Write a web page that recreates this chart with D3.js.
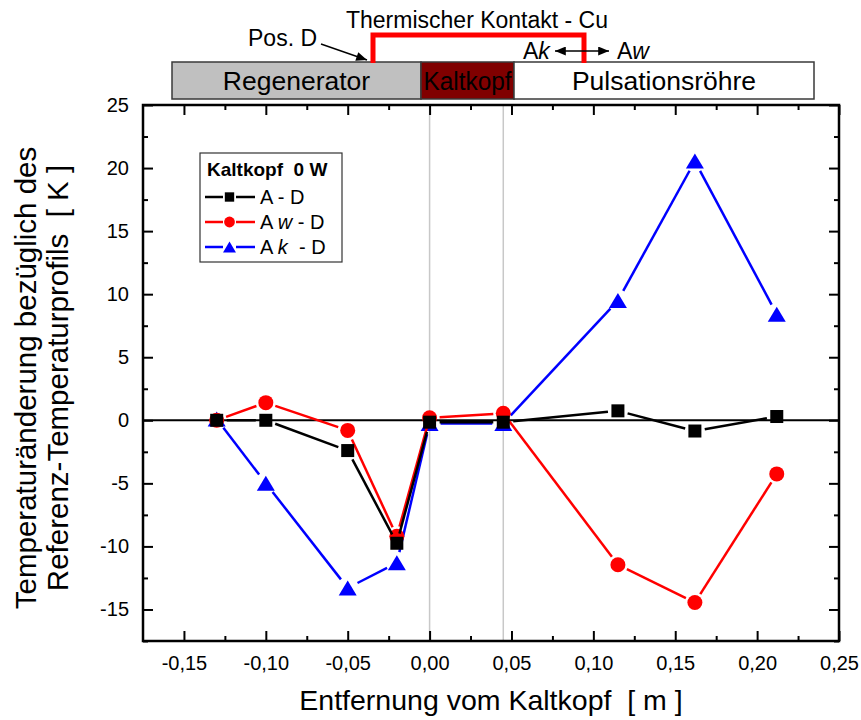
<!DOCTYPE html>
<html>
<head>
<meta charset="utf-8">
<script src="https://cdn.jsdelivr.net/npm/d3@7"></script>
<style>
  body { margin: 0; background: #fff; }
  svg text { font-family: "Liberation Sans", Arial, Helvetica, sans-serif; white-space: pre; }
</style>
</head>
<body>
<svg id="chart" width="861" height="720"></svg>
<script>
// Measurement positions along the cold head axis [m]
const positions = [-0.13, -0.10, -0.05, -0.02, 0.00, 0.045, 0.115, 0.162, 0.212];
// Temperature change relative to the reference profile [K]
const seriesAD  = [0.0, 0.0, -2.4, -9.75, -0.15, -0.15, 0.75, -0.85, 0.3];
const seriesAwD = [0.0, 1.4, -0.8, -9.2, 0.2, 0.55, -11.45, -14.45, -4.25];
const seriesAkD = [0.1, -5.0, -13.3, -11.3, -0.25, -0.25, 9.5, 20.55, 8.4];

const xMajorTicks = [-0.15, -0.10, -0.05, 0.00, 0.05, 0.10, 0.15, 0.20, 0.25];
const xMinorTicks = [-0.125, -0.075, -0.025, 0.025, 0.075, 0.125, 0.175, 0.225];
const yMajorTicks = [-15, -10, -5, 0, 5, 10, 15, 20, 25];
const yMinorTicks = [-17.5, -12.5, -7.5, -2.5, 2.5, 7.5, 12.5, 17.5, 22.5];
const guideLines = [0.0, 0.045];   // Regenerator/cold head and cold head/pulse tube boundaries

const svg = d3.select("#chart");
const plot = { left: 143, right: 839, top: 105, bottom: 641 };

const x = d3.scaleLinear().domain([-0.175, 0.25]).range([plot.left, plot.right]);
const y = d3.scaleLinear().domain([-17.5, 25]).range([plot.bottom, plot.top]);

const fmtX = d => d3.format(".2f")(d).replace("−", "-").replace(".", ",");
const fmtY = d => d3.format("d")(d).replace("−", "-");

// arrowhead marker for the header annotations
const defs = svg.append("defs");
defs.append("marker")
  .attr("id", "arrow")
  .attr("viewBox", "0 0 12 10")
  .attr("refX", 12).attr("refY", 5)
  .attr("markerWidth", 12).attr("markerHeight", 9)
  .attr("markerUnits", "userSpaceOnUse")
  .attr("orient", "auto-start-reverse")
  .append("path").attr("d", "M0,0 L12,5 L0,10 Z").attr("fill", "#000");

// ---- header: apparatus sketch ----
const header = svg.append("g");
const boxes = [
  { name: "Regenerator", x0: 172, x1: 421, fill: "#c0c0c0", fit: null },
  { name: "Kaltkopf", x0: 421, x1: 514, fill: "#800000", fit: 88 },
  { name: "Pulsationsröhre", x0: 514, x1: 814, fill: "#ffffff", fit: null }
];
header.selectAll("rect.box").data(boxes).join("rect")
  .attr("class", "box")
  .attr("x", d => d.x0).attr("y", 62)
  .attr("width", d => d.x1 - d.x0).attr("height", 37)
  .attr("fill", d => d.fill)
  .attr("stroke", "#3a3a3a").attr("stroke-width", 1.5);
header.selectAll("text.box").data(boxes).join("text")
  .attr("class", "box")
  .attr("x", d => (d.x0 + d.x1) / 2).attr("y", 90)
  .attr("text-anchor", "middle")
  .attr("font-size", 26.5)
  .attr("fill", "#000")
  .each(function (d) {
    if (d.fit) d3.select(this).attr("textLength", d.fit).attr("lengthAdjust", "spacingAndGlyphs");
  })
  .text(d => d.name);

// copper thermal contact bracket
header.append("path")
  .attr("d", "M373,63 V35 H584 V63")
  .attr("fill", "none").attr("stroke", "#ff0000").attr("stroke-width", 5);

header.append("text").attr("x", 477).attr("y", 28).attr("text-anchor", "middle")
  .attr("font-size", 23).text("Thermischer Kontakt - Cu");
header.append("text").attr("x", 248).attr("y", 46).attr("font-size", 23).text("Pos. D");
header.append("line").attr("x1", 321).attr("y1", 44).attr("x2", 367).attr("y2", 60)
  .attr("stroke", "#000").attr("stroke-width", 1.5).attr("marker-end", "url(#arrow)");

const ak = header.append("text").attr("x", 523).attr("y", 59).attr("font-size", 23);
ak.append("tspan").text("A");
ak.append("tspan").attr("font-style", "italic").text("k");
header.append("line").attr("x1", 555).attr("y1", 51).attr("x2", 609).attr("y2", 51)
  .attr("stroke", "#000").attr("stroke-width", 1.5)
  .attr("marker-start", "url(#arrow)").attr("marker-end", "url(#arrow)");
const aw = header.append("text").attr("x", 617).attr("y", 59).attr("font-size", 23);
aw.append("tspan").text("A");
aw.append("tspan").attr("font-style", "italic").text("w");

// ---- plot area ----
svg.append("g").selectAll("line").data(guideLines).join("line")
  .attr("x1", d => x(d)).attr("x2", d => x(d))
  .attr("y1", plot.top).attr("y2", plot.bottom)
  .attr("stroke", "#c8c8c8").attr("stroke-width", 1.5);

svg.append("line")
  .attr("x1", plot.left).attr("x2", plot.right)
  .attr("y1", y(0)).attr("y2", y(0))
  .attr("stroke", "#000").attr("stroke-width", 2);

function styleAxis(g, size) {
  g.select(".domain").remove();
  g.selectAll(".tick line").attr("stroke", "#000").attr("stroke-width", 2);
  g.selectAll("text").attr("font-size", size).attr("fill", "#000")
    .attr("font-family", "'Liberation Sans', Arial, sans-serif");
}

// bottom
svg.append("g").attr("transform", `translate(0,${plot.bottom})`)
  .call(d3.axisBottom(x).tickValues(xMajorTicks).tickSize(-10).tickSizeOuter(0).tickPadding(15).tickFormat(fmtX))
  .call(g => styleAxis(g, 20));
svg.append("g").attr("transform", `translate(0,${plot.bottom})`)
  .call(d3.axisBottom(x).tickValues(xMinorTicks).tickSize(-5).tickSizeOuter(0).tickFormat(""))
  .call(g => styleAxis(g, 20));
// top
svg.append("g").attr("transform", `translate(0,${plot.top})`)
  .call(d3.axisTop(x).tickValues(xMajorTicks).tickSize(-10).tickSizeOuter(0).tickFormat(""))
  .call(g => styleAxis(g, 20));
svg.append("g").attr("transform", `translate(0,${plot.top})`)
  .call(d3.axisTop(x).tickValues(xMinorTicks).tickSize(-5).tickSizeOuter(0).tickFormat(""))
  .call(g => styleAxis(g, 20));
// left
svg.append("g").attr("transform", `translate(${plot.left},0)`)
  .call(d3.axisLeft(y).tickValues(yMajorTicks).tickSize(-10).tickSizeOuter(0).tickPadding(14).tickFormat(fmtY))
  .call(g => styleAxis(g, 20));
svg.append("g").attr("transform", `translate(${plot.left},0)`)
  .call(d3.axisLeft(y).tickValues(yMinorTicks).tickSize(-5).tickSizeOuter(0).tickFormat(""))
  .call(g => styleAxis(g, 20));
// right
svg.append("g").attr("transform", `translate(${plot.right},0)`)
  .call(d3.axisRight(y).tickValues(yMajorTicks).tickSize(-10).tickSizeOuter(0).tickFormat(""))
  .call(g => styleAxis(g, 20));
svg.append("g").attr("transform", `translate(${plot.right},0)`)
  .call(d3.axisRight(y).tickValues(yMinorTicks).tickSize(-5).tickSizeOuter(0).tickFormat(""))
  .call(g => styleAxis(g, 20));

svg.append("rect")
  .attr("x", plot.left).attr("y", plot.top)
  .attr("width", plot.right - plot.left).attr("height", plot.bottom - plot.top)
  .attr("fill", "none").attr("stroke", "#000").attr("stroke-width", 2.5);

// ---- series ----
function drawMarker(g, shape, cx, cy, s, color) {
  if (shape === "square") {
    g.append("rect").attr("x", cx - 6.5 * s).attr("y", cy - 6.5 * s)
      .attr("width", 13 * s).attr("height", 13 * s).attr("fill", color);
  } else if (shape === "circle") {
    g.append("circle").attr("cx", cx).attr("cy", cy).attr("r", 7.5 * s).attr("fill", color);
  } else {
    g.append("path")
      .attr("d", `M${cx},${cy - 7.5 * s} L${cx + 9 * s},${cy + 7.5 * s} L${cx - 9 * s},${cy + 7.5 * s} Z`)
      .attr("fill", color);
  }
}

const series = [
  { name: "Ak", values: seriesAkD, color: "#0000ff", shape: "triangle", gap: 11 },
  { name: "Aw", values: seriesAwD, color: "#ff0000", shape: "circle", gap: 10 },
  { name: "A",  values: seriesAD,  color: "#000000", shape: "square", gap: 10 }
];

series.forEach(s => {
  const g = svg.append("g");
  const pts = positions.map((p, i) => [x(p), y(s.values[i])]);
  d3.pairs(pts).forEach(([a, b]) => {
    const dx = b[0] - a[0], dy = b[1] - a[1];
    const len = Math.hypot(dx, dy);
    if (len <= 2 * s.gap) return;
    const ux = dx / len, uy = dy / len;
    g.append("line")
      .attr("x1", a[0] + ux * s.gap).attr("y1", a[1] + uy * s.gap)
      .attr("x2", b[0] - ux * s.gap).attr("y2", b[1] - uy * s.gap)
      .attr("stroke", s.color).attr("stroke-width", 2.5);
  });
  pts.forEach(p => drawMarker(g, s.shape, p[0], p[1], 1, s.color));
});

// ---- legend ----
const legend = svg.append("g");
legend.append("rect").attr("x", 200).attr("y", 153).attr("width", 142).attr("height", 109)
  .attr("fill", "#fff").attr("stroke", "#333").attr("stroke-width", 1.2);
legend.append("text").attr("x", 207).attr("y", 176).attr("font-size", 19).attr("font-weight", "bold")
  .text("Kaltkopf  0 W");

const legendRows = [
  { s: series[2], y: 197, parts: [["A - D", false]] },
  { s: series[1], y: 222, parts: [["A ", false], ["w", true], [" - D", false]] },
  { s: series[0], y: 247, parts: [["A ", false], ["k", true], ["  - D", false]] }
];
legendRows.forEach(r => {
  legend.append("line").attr("x1", 205).attr("x2", 223).attr("y1", r.y).attr("y2", r.y)
    .attr("stroke", r.s.color).attr("stroke-width", 2.5);
  legend.append("line").attr("x1", 236).attr("x2", 255).attr("y1", r.y).attr("y2", r.y)
    .attr("stroke", r.s.color).attr("stroke-width", 2.5);
  drawMarker(legend, r.s.shape, 229.5, r.y, 0.72, r.s.color);
  const t = legend.append("text").attr("x", 260).attr("y", r.y + 7).attr("font-size", 20);
  r.parts.forEach(([str, it]) => {
    const ts = t.append("tspan").text(str);
    if (it) ts.attr("font-style", "italic");
  });
});

// ---- axis titles ----
svg.append("text").attr("x", 491).attr("y", 710).attr("text-anchor", "middle")
  .attr("font-size", 28.5).text("Entfernung vom Kaltkopf  [ m ]");
svg.append("text").attr("transform", "translate(36,378) rotate(-90)").attr("text-anchor", "middle")
  .attr("font-size", 29.5).text("Temperaturänderung bezüglich des");
svg.append("text").attr("transform", "translate(68,378) rotate(-90)").attr("text-anchor", "middle")
  .attr("font-size", 29.5).text("Referenz-Temperaturprofils  [ K ]");
</script>
</body>
</html>
